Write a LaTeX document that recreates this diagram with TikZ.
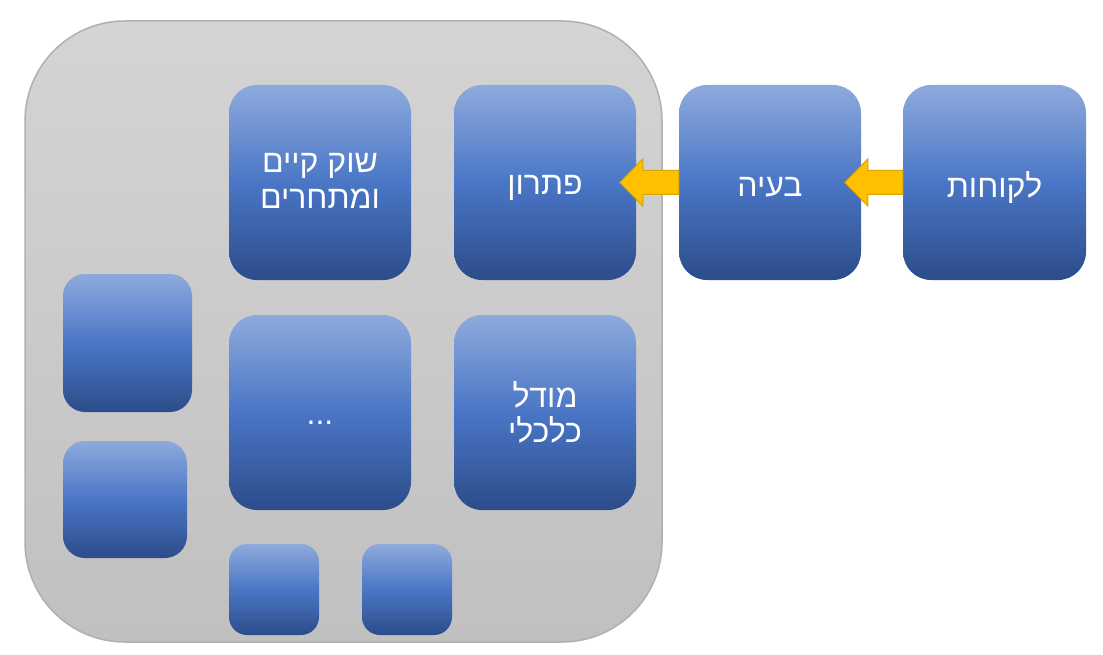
\documentclass[tikz,border=0pt]{standalone}
\usepackage{fontspec}
\newfontfamily\heb[Script=Hebrew]{Liberation Sans}
\TeXXeTstate=1
\usetikzlibrary{calc}
\definecolor{btop}{HTML}{8EAADC}
\definecolor{bmid}{HTML}{4A76C6}
\definecolor{bbot}{HTML}{2C4C8A}
\definecolor{gtop}{HTML}{D4D4D4}
\definecolor{gbot}{HTML}{C0C0C0}
\definecolor{gedge}{HTML}{B0B0B0}
\definecolor{ayel}{HTML}{FFC000}
\definecolor{aedge}{HTML}{D9A400}
\newcommand\lowr[1]{\raisebox{-5pt}[\height][\depth]{\beginR #1\endR}}
\begin{document}
\begin{tikzpicture}[x=1pt,y=-1pt,
  bluebox/.style={rounded corners=28pt, top color=btop, bottom color=bbot, middle color=bmid,
    draw=none, text=white, font=\heb\fontsize{32}{35.5}\selectfont, align=center, inner sep=0pt},
  framebox/.style={draw=gedge, line width=1.5pt, rounded corners=100pt, top color=gtop, bottom color=gbot, inner sep=0pt},
  yarrow/.style={fill=ayel, draw=aedge, line width=1pt, line join=miter}]
\useasboundingbox (0,0) rectangle (1103,655);
\node[framebox, minimum width=637pt, minimum height=621pt] (frame) at (343.5,331.5) {};
\node[bluebox, minimum width=182pt, minimum height=195pt] (shuk) at (320,182.5) {\raisebox{-1pt}[\height][\depth]{\begin{tabular}{@{}c@{}}\beginR שוק קיים\endR\\\beginR ומתחרים\endR\end{tabular}}};
\node[bluebox, minimum width=182pt, minimum height=195pt] (pitaron) at (545,182.5) {\lowr{פתרון}};
\node[bluebox, minimum width=182pt, minimum height=195pt] (baaya) at (770,182.5) {\lowr{בעיה}};
\node[bluebox, minimum width=183pt, minimum height=195pt] (lakoh) at (994.5,182.5) {\lowr{לקוחות}};
\node[bluebox, minimum width=182pt, minimum height=195pt] (dots) at (320,412.5) {\raisebox{-12pt}[0pt][0pt]{...}};
\node[bluebox, minimum width=182pt, minimum height=195pt] (model) at (545,412.5) {\beginR מודל\endR\\\beginR כלכלי\endR};
\node[bluebox, rounded corners=22pt, minimum width=129pt, minimum height=138pt] (sa) at (127.5,343) {};
\node[bluebox, rounded corners=22pt, minimum width=124pt, minimum height=117pt] (sb) at (125,499.5) {};
\node[bluebox, rounded corners=18pt, minimum width=90pt, minimum height=91pt] (sc) at (274,589.5) {};
\node[bluebox, rounded corners=18pt, minimum width=90pt, minimum height=91pt] (sd) at (407,589.5) {};
\draw[yarrow] (baaya.west) ++(0,-12) -- ++(-36,0) -- ++(0,-11.5) -- ++(-23,23.5) -- ++(23,23.5) -- ++(0,-11.5) -- ++(36,0) -- cycle;
\draw[yarrow] (lakoh.west) ++(0,-12) -- ++(-35,0) -- ++(0,-11.5) -- ++(-23,23.5) -- ++(23,23.5) -- ++(0,-11.5) -- ++(35,0) -- cycle;
\end{tikzpicture}
\end{document}
